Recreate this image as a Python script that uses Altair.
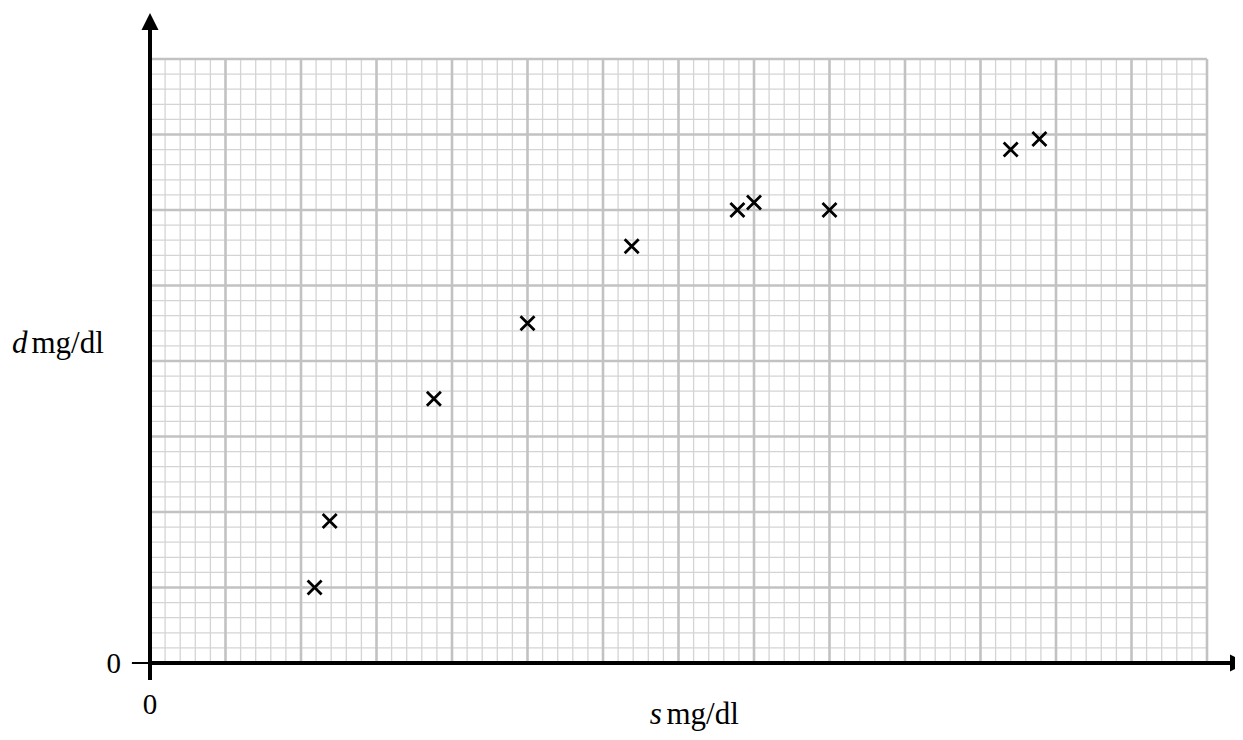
import altair as alt
import pandas as pd

# ---- data ----
s_vals = [10.9, 11.9, 18.8, 25.0, 31.9, 38.9, 40.0, 45.0, 57.0, 58.9]
d_vals = [5.0, 9.4, 17.5, 22.5, 27.6, 30.0, 30.5, 30.0, 34.0, 34.7]

x_grid_max = 70   # 14 big squares of 5 small squares
y_grid_max = 40   # 8 big squares of 5 small squares
major_every = 5

x_label = ["s", "mg/dl"]
y_label = ["d", "mg/dl"]
zero_label = "0"

# ---- layout ----
W, H = 1227, 724
K = 15.1               # pixels per small square
X0_PX, Y0_PX = 142, 655  # origin inside the plot area
xdom = [-X0_PX / K, (W - X0_PX) / K]
ydom = [-(H - Y0_PX) / K, Y0_PX / K]
xs = alt.Scale(domain=xdom, nice=False, zero=False)
ys = alt.Scale(domain=ydom, nice=False, zero=False)

FONT = "Liberation Serif"


def X(f="x"):
    return alt.X(f"{f}:Q", scale=xs, axis=None)


def Y(f="y"):
    return alt.Y(f"{f}:Q", scale=ys, axis=None)


vmin = pd.DataFrame({"x": [i for i in range(x_grid_max + 1) if i % major_every],
                     "y": 0, "y2": y_grid_max})
vmaj = pd.DataFrame({"x": [i for i in range(x_grid_max + 1) if i % major_every == 0],
                     "y": 0, "y2": y_grid_max})
hmin = pd.DataFrame({"y": [i for i in range(y_grid_max + 1) if i % major_every],
                     "x": 0, "x2": x_grid_max})
hmaj = pd.DataFrame({"y": [i for i in range(y_grid_max + 1) if i % major_every == 0],
                     "x": 0, "x2": x_grid_max})

minor_c, major_c = "#d4d4d4", "#c2c2c2"

g1 = alt.Chart(vmin).mark_rule(color=minor_c, strokeWidth=1.3).encode(x=X(), y=Y(), y2="y2:Q")
g2 = alt.Chart(hmin).mark_rule(color=minor_c, strokeWidth=1.3).encode(y=Y(), x=X(), x2="x2:Q")
g3 = alt.Chart(vmaj).mark_rule(color=major_c, strokeWidth=2.6).encode(x=X(), y=Y(), y2="y2:Q")
g4 = alt.Chart(hmaj).mark_rule(color=major_c, strokeWidth=2.6).encode(y=Y(), x=X(), x2="x2:Q")

y_top_base = (Y0_PX - 22) / K
axes_v = pd.DataFrame({"x": [0], "y": [-1.13], "y2": [y_top_base]})
axes_h = pd.DataFrame({"y": [0], "x": [0], "x2": [xdom[1] + 1]})
ax1 = alt.Chart(axes_v).mark_rule(color="black", strokeWidth=4).encode(x=X(), y=Y(), y2="y2:Q")
ax2 = alt.Chart(axes_h).mark_rule(color="black", strokeWidth=4).encode(y=Y(), x=X(), x2="x2:Q")
tick_h = pd.DataFrame({"y": [0], "x": [-1.2], "x2": [0]})
tick_v = pd.DataFrame({"x": [0], "y": [-1.13], "y2": [0]})
t1 = alt.Chart(tick_h).mark_rule(color="black", strokeWidth=2).encode(y=Y(), x=X(), x2="x2:Q")
t2 = alt.Chart(tick_v).mark_rule(color="black", strokeWidth=2).encode(x=X(), y=Y(), y2="y2:Q")

up = pd.DataFrame({"x": [0], "y": [y_top_base]})
arrow_up = alt.Chart(up).mark_point(shape="M0,-1L-0.5,0L0.5,0Z", filled=True, size=1156,
                                    color="black", opacity=1).encode(x=X(), y=Y())
right = pd.DataFrame({"x": [(W - 5 - X0_PX) / K], "y": [0]})
arrow_r = alt.Chart(right).mark_point(shape="M1,0L0,-0.5L0,0.5Z", filled=True, size=1156,
                                      color="black", opacity=1).encode(x=X(), y=Y())

pts = pd.DataFrame({"s": s_vals, "d": d_vals})
points = alt.Chart(pts).mark_point(shape="M-1,-1L1,1M-1,1L1,-1", size=196, filled=False,
                                   color="black", strokeWidth=2.8, opacity=1).encode(
    x=X("s"), y=Y("d"))

zeros = pd.DataFrame({"x": [-1.92, 0], "y": [-0.66, -3.38], "t": [zero_label, zero_label]})
z1 = alt.Chart(zeros.iloc[[0]]).mark_text(font=FONT, fontSize=29, align="right",
                                          baseline="alphabetic", color="black").encode(
    x=X(), y=Y(), text="t:N")
z2 = alt.Chart(zeros.iloc[[1]]).mark_text(font=FONT, fontSize=29, align="center",
                                          baseline="alphabetic", color="black").encode(
    x=X(), y=Y(), text="t:N")

yl_it = pd.DataFrame({"x": [-9.14], "y": [20.53], "t": [y_label[0]]})
yl_rm = pd.DataFrame({"x": [-7.85], "y": [20.53], "t": [y_label[1]]})
xl_it = pd.DataFrame({"x": [33.1], "y": [-4.04], "t": [x_label[0]]})
xl_rm = pd.DataFrame({"x": [34.2], "y": [-4.04], "t": [x_label[1]]})


def label(df, italic):
    kw = dict(font=FONT, fontSize=31, align="left", baseline="alphabetic", color="black")
    if italic:
        kw["fontStyle"] = "italic"
    return alt.Chart(df).mark_text(**kw).encode(x=X(), y=Y(), text="t:N")


chart = alt.layer(
    g1, g2, g3, g4, ax1, ax2, t1, t2, arrow_up, arrow_r, points, z1, z2,
    label(yl_it, True), label(yl_rm, False), label(xl_it, True), label(xl_rm, False)
).properties(width=W, height=H, padding=0, autosize="none").configure_view(strokeWidth=0)

chart.save("out.html", embed_options={"renderer": "svg", "actions": False})
